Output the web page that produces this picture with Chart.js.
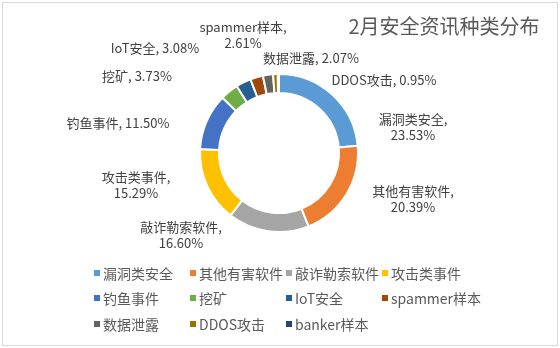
<!DOCTYPE html>
<html>
<head>
<meta charset="utf-8">
<script src="https://cdn.jsdelivr.net/npm/chart.js@4.4.0/dist/chart.umd.min.js"></script>
<style>
  body { margin: 0; background: #fff; }
  #wrap { position: relative; width: 560px; height: 348px; }
  #frame { position: absolute; left: 2px; top: 2px; width: 556px; height: 344px; border: 1px solid #d9d9d9; box-sizing: border-box; pointer-events: none; }
  #legend { position: absolute; left: 94px; top: 260px; display: grid; grid-template-columns: repeat(4, 96px); grid-auto-rows: 25.5px; font: 14px "Noto Sans CJK SC", sans-serif; color: #595959; }
  .item { display: flex; align-items: center; white-space: nowrap; }
  .box { width: 6px; height: 6px; margin-right: 3px; flex: none; }
</style>
</head>
<body>
<div id="wrap">
  <canvas id="pie"></canvas>
  <div id="frame"></div>
  <div id="legend"></div>
</div>
<script>
"use strict";
// chart data
const categories = ["漏洞类安全", "其他有害软件", "敲诈勒索软件", "攻击类事件", "钓鱼事件", "挖矿", "IoT安全", "spammer样本", "数据泄露", "DDOS攻击", "banker样本"];
const shares = [23.53, 20.39, 16.60, 15.29, 11.50, 3.73, 3.08, 2.61, 2.07, 0.95, 0.25];
const colors = ["#5B9BD5", "#ED7D31", "#A5A5A5", "#FFC000", "#4472C4", "#70AD47", "#255E91", "#9E480E", "#636363", "#997300", "#264478"];
const chartTitle = "2月安全资讯种类分布";

// label placement (offset from the doughnut centre), null = no label
const labelOffsets = [[134, -26], [134, 46], [-98, 82], [-143, 32], [-161, -30], [-142, -77], [-124, -105], [-36, -118], [32, -95], [105, -73], null];
const twoLine = [true, true, true, true, false, false, false, true, false, false, false];

// draws title and data labels
const labelPlugin = {
  id: "labels",
  afterDraw(chart) {
    const ctx = chart.ctx;
    const arcs = chart.getDatasetMeta(0).data;
    ctx.save();
    ctx.textAlign = "center";
    ctx.textBaseline = "middle";
    ctx.fillStyle = "#595959";
    ctx.font = '20px "Noto Sans CJK SC"';
    ctx.fillText(chartTitle, 444, 26);

    ctx.fillStyle = "#404040";
    ctx.font = '13px "Noto Sans CJK SC"';
    for (let i = 0; i < arcs.length; i++) {
      const off = labelOffsets[i];
      if (!off) continue;
      const x = arcs[i].x + off[0];
      const y = arcs[i].y + off[1];
      const pct = shares[i].toFixed(2) + "%";
      if (twoLine[i]) {
        ctx.fillText(categories[i] + ",", x, y - 8);
        ctx.fillText(pct, x, y + 8);
      } else {
        ctx.fillText(categories[i] + ", " + pct, x, y);
      }
    }
    ctx.restore();
  }
};

new Chart(document.getElementById("pie"), {
  type: "doughnut",
  data: {
    labels: categories,
    datasets: [{
      data: shares,
      backgroundColor: colors,
      borderColor: "#fff",
      borderWidth: 2,
      hoverOffset: 0
    }]
  },
  options: {
    responsive: true,
    maintainAspectRatio: false,
    animation: false,
    cutout: "76%",
    layout: { padding: { left: 199, right: 201, top: 73, bottom: 115 } },
    plugins: {
      legend: { display: false },
      tooltip: { enabled: false }
    }
  },
  plugins: [labelPlugin]
});

// legend laid out as a grid like the original
const legend = document.getElementById("legend");
for (let i = 0; i < categories.length; i++) {
  const item = document.createElement("div");
  item.className = "item";
  item.innerHTML = '<span class="box" style="background:' + colors[i] + '"></span>' + categories[i];
  legend.appendChild(item);
}
</script>
</body>
</html>
